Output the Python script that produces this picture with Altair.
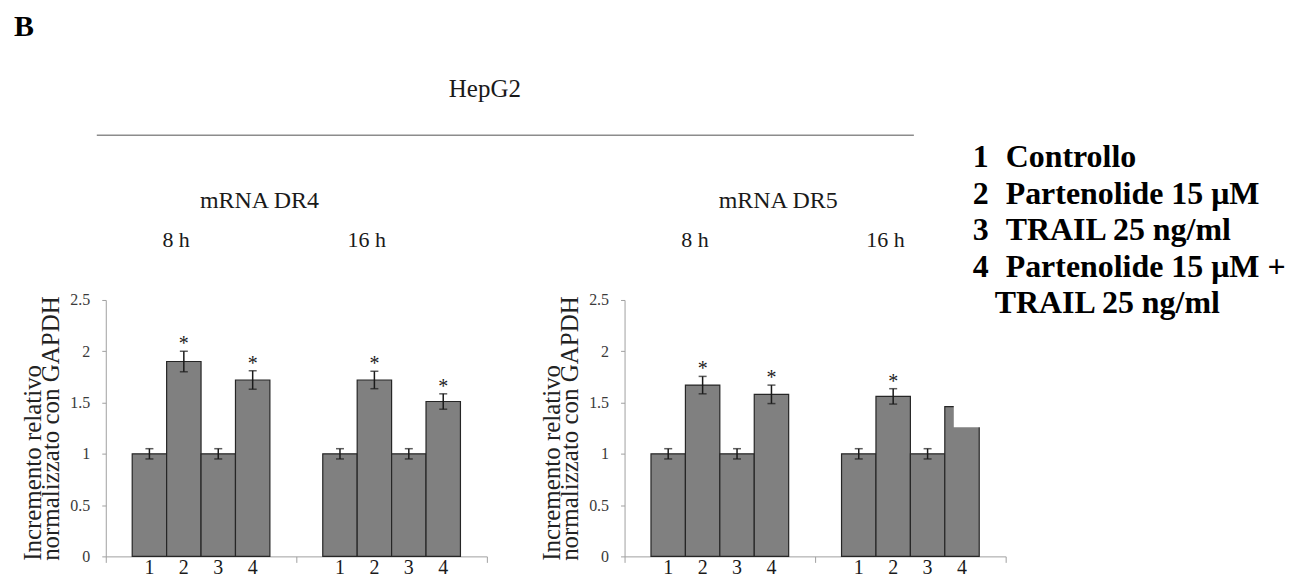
import altair as alt
import pandas as pd

FONT = "Liberation Serif"

# ---- data -------------------------------------------------------------
times = ["8 h", "16 h"]
treatments = ["1", "2", "3", "4"]

dr4_8h = [1.00, 1.90, 1.00, 1.72]
dr4_8h_err = [0.05, 0.10, 0.05, 0.09]
dr4_8h_sig = [False, True, False, True]
dr4_16h = [1.00, 1.72, 1.00, 1.51]
dr4_16h_err = [0.05, 0.085, 0.05, 0.075]
dr4_16h_sig = [False, True, False, True]

dr5_8h = [1.00, 1.67, 1.00, 1.58]
dr5_8h_err = [0.05, 0.085, 0.05, 0.09]
dr5_8h_sig = [False, True, False, True]
dr5_16h = [1.00, 1.56, 1.00, 1.46]
dr5_16h_err = [0.05, 0.075, 0.05, 0.07]
dr5_16h_sig = [False, True, False, True]

y_ticks = [0, 0.5, 1, 1.5, 2, 2.5]
y_title = ["Incremento relativo", "normalizzato con GAPDH"]
panel_titles = ["mRNA  DR4", "mRNA  DR5"]
main_title = "HepG2"
panel_letter = "B"
legend_nums = ["1", "2", "3", "4"]
legend_texts = ["Controllo", "Partenolide 15 \u03bcM", "TRAIL 25 ng/ml", "Partenolide 15 \u03bcM +"]
legend_cont = "TRAIL 25 ng/ml"

W, H = 382, 257
BAR_FILL = "#808080"
INK = "#1a1a1a"
AXIS_GREY = "#a0a0a0"


def panel_df(v8, e8, s8, v16, e16, s16):
    rows = []
    for t, vals, errs, sigs in [(times[0], v8, e8, s8), (times[1], v16, e16, s16)]:
        for k, v, e, s in zip(treatments, vals, errs, sigs):
            rows.append({"time": t, "trt": k, "value": v, "lo": v - e, "hi": v + e, "star": s})
    return pd.DataFrame(rows)


X = alt.X("time:N", sort=times,
          scale=alt.Scale(domain=times, paddingInner=0, paddingOuter=0),
          axis=alt.Axis(labels=False, title=None, tickBand="extent", domainColor=AXIS_GREY,
                        tickColor=AXIS_GREY, tickSize=6, domainWidth=1, grid=False))
XO = alt.XOffset("trt:N", sort=treatments,
                 scale=alt.Scale(domain=treatments, paddingInner=0, paddingOuter=0.768))
YS = alt.Scale(domain=[0, 2.5], nice=False, zero=True)


def make_panel(df, title_text, extra_layers):
    base = alt.Chart(df).encode(x=X, xOffset=XO)
    bars = base.mark_bar(fill=BAR_FILL, stroke="#262626", strokeWidth=1.2).encode(
        y=alt.Y("value:Q", scale=YS,
                axis=alt.Axis(values=y_ticks, format="~g", grid=False, domainColor=AXIS_GREY,
                              tickColor=AXIS_GREY, tickSize=4, labelPadding=12,
                              labelFont=FONT, labelFontSize=16, labelColor="#3a3a3a",
                              title=y_title, titleFont=FONT, titleFontSize=25,
                              titleFontWeight="normal", titleColor="#222222",
                              titleAngle=270, titleAlign="left", titleBaseline="top",
                              titleX=-85, titleY=261, titleLineHeight=17.5))
    )
    err = base.mark_rule(color=INK, strokeWidth=1.5).encode(y=alt.Y("lo:Q", scale=YS), y2="hi:Q")
    cap_lo = base.mark_tick(color=INK, thickness=1.5, size=8).encode(y=alt.Y("lo:Q", scale=YS))
    cap_hi = base.mark_tick(color=INK, thickness=1.5, size=8).encode(y=alt.Y("hi:Q", scale=YS))
    stars = base.transform_filter("datum.star").mark_text(
        text="*", font=FONT, fontSize=20, color=INK, dy=-1, baseline="alphabetic"
    ).encode(y=alt.Y("hi:Q", scale=YS))
    nums = base.mark_text(font=FONT, fontSize=20, color=INK, baseline="alphabetic").encode(
        text="trt:N", y=alt.value(275))
    tdf = pd.DataFrame({"time": times})
    tlabels = alt.Chart(tdf).mark_text(font=FONT, fontSize=22, color=INK, dx=-25,
                                       baseline="alphabetic").encode(
        x=X, text="time:N", y=alt.value(-53))
    ptitle = alt.Chart(pd.DataFrame({"t": [title_text]})).mark_text(
        font=FONT, fontSize=24, color=INK, baseline="alphabetic").encode(
        text="t:N", x=alt.value(154), y=alt.value(-92))
    layers = extra_layers[:1] + [bars, err, cap_lo, cap_hi, stars, nums, tlabels, ptitle] + extra_layers[1:]
    return alt.layer(*layers).properties(width=W, height=H)


# left-panel extras: page frame, letter, main title, rule
frame = alt.Chart(pd.DataFrame({"f": [0]})).mark_rect(opacity=0, strokeWidth=0).encode(
    x=alt.value(-98), x2=alt.value(1180), y=alt.value(-292), y2=alt.value(278))
letter = alt.Chart(pd.DataFrame({"t": [panel_letter]})).mark_text(
    font=FONT, fontSize=30, fontWeight="bold", color="#000000", align="left", baseline="alphabetic"
).encode(text="t:N", x=alt.value(-92), y=alt.value(-265))
htitle = alt.Chart(pd.DataFrame({"t": [main_title]})).mark_text(
    font=FONT, fontSize=25, color=INK, baseline="alphabetic").encode(
    text="t:N", x=alt.value(380), y=alt.value(-203))
hrule = alt.Chart(pd.DataFrame({"r": [0]})).mark_rule(color="#8c8c8c", strokeWidth=1.5).encode(
    x=alt.value(-9), x2=alt.value(810), y=alt.value(-165))

left = make_panel(panel_df(dr4_8h, dr4_8h_err, dr4_8h_sig, dr4_16h, dr4_16h_err, dr4_16h_sig),
                  panel_titles[0], [frame, letter, htitle, hrule])

# right-panel extras: mask over last bar, legend
mask = alt.Chart(pd.DataFrame({"m": [0]})).mark_rect(fill="white", strokeWidth=0).encode(
    x=alt.value(330), x2=alt.value(392), y=alt.datum(1.26, scale=YS), y2=alt.datum(1.8))
leg_rows = pd.DataFrame({"num": legend_nums, "txt": legend_texts, "i": list(range(len(legend_nums)))})
LEG = dict(font=FONT, fontSize=32, fontWeight="bold", color="#000000", align="left",
           baseline="alphabetic")
leg_num = alt.Chart(leg_rows).transform_calculate(py="-133 + 36.5*datum.i").mark_text(**LEG).encode(
    text="num:N", x=alt.value(349), y=alt.Y("py:Q", scale=None))
leg_txt = alt.Chart(leg_rows).transform_calculate(py="-133 + 36.5*datum.i").mark_text(**LEG).encode(
    text="txt:N", x=alt.value(382), y=alt.Y("py:Q", scale=None))
leg_cont = alt.Chart(pd.DataFrame({"t": [legend_cont], "i": [len(legend_nums)]})).transform_calculate(
    py="-133 + 36.5*datum.i").mark_text(**LEG).encode(
    text="t:N", x=alt.value(371), y=alt.Y("py:Q", scale=None))

right_df = panel_df(dr5_8h, dr5_8h_err, dr5_8h_sig, dr5_16h, dr5_16h_err, dr5_16h_sig)
right_base = make_panel(right_df, panel_titles[1], [])
right = alt.layer(right_base, mask, leg_num, leg_txt, leg_cont)

chart = alt.hconcat(left, right, spacing=138, bounds="flush").properties(
    padding=0, background="white"
).configure_view(strokeWidth=0)

chart.save("out.html", embed_options={"renderer": "svg", "actions": False})
